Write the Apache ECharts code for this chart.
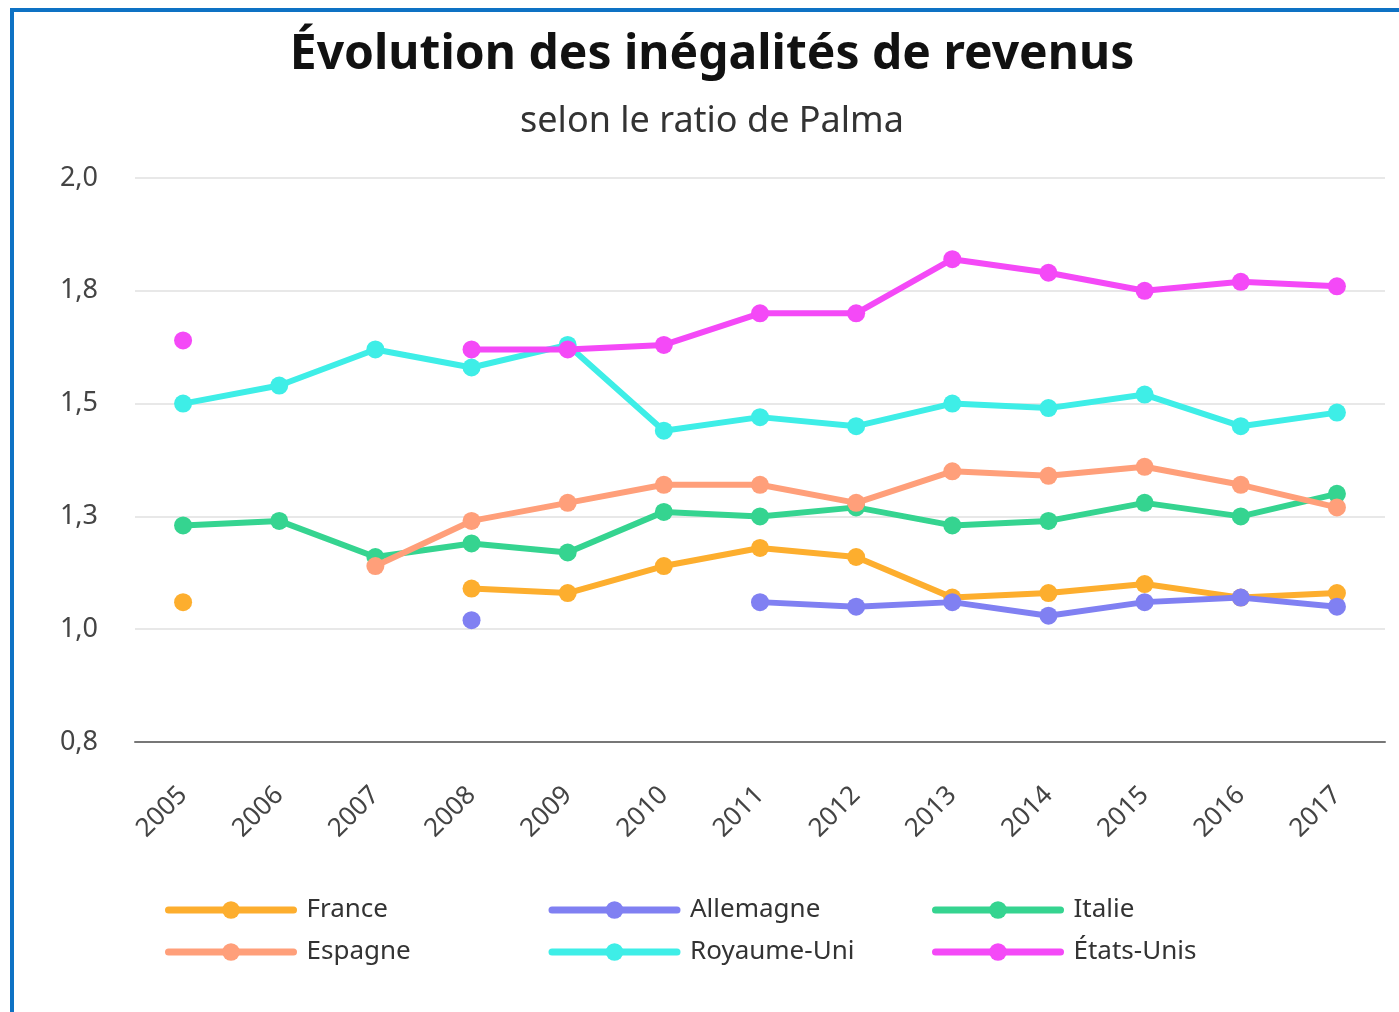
<!DOCTYPE html>
<html>
<head>
<meta charset="utf-8">
<script src="https://cdn.jsdelivr.net/npm/echarts@6/dist/echarts.min.js"></script>
<style>
  html, body { margin: 0; padding: 0; background: #fff; overflow: hidden; }
  #frame { position: absolute; left: 10px; top: 8px; width: 1400px; height: 1020px;
           border-left: 4px solid #0E72C4; border-top: 4px solid #0E72C4; }
  #chart { position: absolute; left: 0; top: 0; width: 1399px; height: 1012px; }
</style>
</head>
<body>
<div id="frame"></div>
<div id="chart"></div>
<script>
// données
var annees = ["2005", "2006", "2007", "2008", "2009", "2010", "2011", "2012", "2013", "2014", "2015", "2016", "2017"];
var pays = ["France", "Allemagne", "Italie", "Espagne", "Royaume-Uni", "États-Unis"];
var couleurs = ["#FDAE2E", "#8080F2", "#35D490", "#FF9F7A", "#3EEEE7", "#F449F7"];

var france    = [1.06, null, null, 1.09, 1.08, 1.14, 1.18, 1.16, 1.07, 1.08, 1.10, 1.07, 1.08];
var allemagne = [null, null, null, 1.02, null, null, 1.06, 1.05, 1.06, 1.03, 1.06, 1.07, 1.05];
var italie    = [1.23, 1.24, 1.16, 1.19, 1.17, 1.26, 1.25, 1.27, 1.23, 1.24, 1.28, 1.25, 1.30];
var espagne   = [null, null, 1.14, 1.24, 1.28, 1.32, 1.32, 1.28, 1.35, 1.34, 1.36, 1.32, 1.27];
var royaumeUni = [1.50, 1.54, 1.62, 1.58, 1.63, 1.44, 1.47, 1.45, 1.50, 1.49, 1.52, 1.45, 1.48];
var etatsUnis = [1.64, null, null, 1.62, 1.62, 1.63, 1.70, 1.70, 1.82, 1.79, 1.75, 1.77, 1.76];

var valeurs = [france, allemagne, italie, espagne, royaumeUni, etatsUnis];

var police = "'Noto Sans', 'Open Sans', sans-serif";

var myChart = echarts.init(document.getElementById("chart"));

var series = pays.map(function (nom, i) {
    return {
        name: nom,
        type: "line",
        data: valeurs[i],
        symbol: "circle",
        symbolSize: 18,
        showAllSymbol: true,
        lineStyle: { width: 6, color: couleurs[i] },
        itemStyle: { color: couleurs[i] },
        z: 2 + i
    };
});

var option = {
    backgroundColor: "transparent",
    animation: false,
    color: couleurs,
    title: {
        text: "Évolution des inégalités de revenus",
        subtext: "selon le ratio de Palma",
        left: 712,
        textAlign: "center",
        top: 31,
        padding: 0,
        itemGap: 24,
        textStyle: { fontFamily: police, fontSize: 48, fontWeight: "bold", color: "#111", lineHeight: 48 },
        subtextStyle: { fontFamily: police, fontSize: 36, color: "#333", lineHeight: 38 }
    },
    grid: { left: 135, right: 14, top: 178, bottom: 270, containLabel: false },
    legend: {
        data: pays,
        left: 160,
        top: 889,
        width: 1200,
        itemWidth: 125,
        itemHeight: 22,
        itemGap: 10,
        lineStyle: { width: 7, cap: "round" },
        textStyle: { fontFamily: police, fontSize: 26, color: "#333", width: 232, lineHeight: 32, padding: [0, 0, 0, 8] }
    },
    xAxis: {
        type: "category",
        data: annees,
        boundaryGap: true,
        axisLine: { lineStyle: { color: "#777", width: 2 } },
        axisTick: { show: false },
        axisLabel: { rotate: 45, margin: 49, fontFamily: police, fontSize: 26, color: "#444" }
    },
    yAxis: {
        type: "value",
        min: 0.75,
        max: 2,
        interval: 0.25,
        axisLine: { show: false },
        axisTick: { show: false },
        splitLine: { lineStyle: { color: "#e8e8e8", width: 2 } },
        axisLabel: {
            margin: 37,
            fontFamily: police,
            fontSize: 27,
            color: "#444",
            formatter: function (v) { return v.toFixed(1).replace(".", ","); }
        }
    },
    series: series
};

myChart.setOption(option);
window.addEventListener("resize", function () {
    myChart.resize();
});
</script>
</body>
</html>
